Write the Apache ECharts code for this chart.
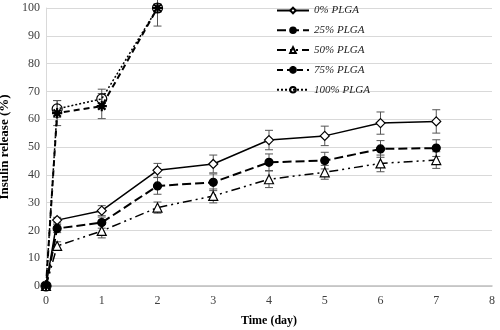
<!DOCTYPE html>
<html><head><meta charset="utf-8">
<script src="https://cdn.jsdelivr.net/npm/echarts@6/dist/echarts.min.js"></script>
<style>html,body{margin:0;padding:0;background:#fff}#c{width:500px;height:330px}</style>
</head><body><div id="c"></div>
<script>
var seriesNames = ['0% PLGA','25% PLGA','50% PLGA','75% PLGA','100% PLGA'];
var daysLong = [0, 0.2, 1, 2, 3, 4, 5, 6, 7];
var daysShort = [0, 0.2, 1, 2];
var plga0 = [0, 23.7, 27.1, 41.6, 43.9, 52.5, 54.0, 58.6, 59.2];
var plga0Err = [0, 1, 1.8, 2.5, 3.2, 3.5, 3.5, 4, 4.2];
var plga25 = [0, 20.7, 22.8, 36.0, 37.3, 44.5, 45.1, 49.3, 49.6];
var plga25Err = [0, 1.5, 2, 3, 3, 3, 3, 3, 3];
var plga50 = [0, 14.4, 19.8, 28.2, 32.4, 38.4, 40.9, 44.1, 45.3];
var plga50Err = [0, 1.5, 2.5, 2, 2.5, 3, 2.5, 3, 3];
var plga75 = [0, 62.2, 64.7, 100];
var plga75Err = [0, 4.5, 4.5, 6.5];
var plga100 = [0, 63.7, 67.3, 100];
var plga100Err = [0, 3, 3.5, 1.5];
var xTicks = [0,1,2,3,4,5,6,7,8];
var yTicks = [0,10,20,30,40,50,60,70,80,90,100];

function pts(xs, ys){ return xs.map(function(x,i){ return [x, ys[i]]; }); }
function errPts(xs, ys, es){ return xs.map(function(x,i){ return [x, ys[i]-es[i], ys[i]+es[i]]; }); }

var asterisk = 'path://M-0.5,-5 L0.5,-5 L0.5,5 L-0.5,5 Z M-5,-0.5 L5,-0.5 L5,0.5 L-5,0.5 Z M-3.9,-3.2 L-3.2,-3.9 L3.9,3.2 L3.2,3.9 Z M3.2,-3.9 L3.9,-3.2 L-3.2,3.9 L-3.9,3.2 Z';

function errSeries(data){
  return {
    type:'custom', silent:true, z:1,
    encode:{x:0, y:[1,2]},
    data:data,
    renderItem:function(params, api){
      var x=api.value(0), lo=api.value(1), hi=api.value(2);
      if (hi - lo < 0.01) return null;
      var p1=api.coord([x,hi]), p2=api.coord([x,lo]); var w=4;
      var st={stroke:'#555', lineWidth:1};
      return {type:'group', children:[
        {type:'line', shape:{x1:p1[0],y1:p1[1],x2:p2[0],y2:p2[1]}, style:st},
        {type:'line', shape:{x1:p1[0]-w,y1:p1[1],x2:p1[0]+w,y2:p1[1]}, style:st},
        {type:'line', shape:{x1:p2[0]-w,y1:p2[1],x2:p2[0]+w,y2:p2[1]}, style:st}
      ]};
    }
  };
}

function lineSeries(name, data, symbol, size, fill, type, width){
  return {
    name:name, type:'line', data:data, symbol:symbol, symbolSize:size, z:3,
    showAllSymbol:true,
    lineStyle:{color:'#000', width:width, type:type},
    itemStyle:{color:fill, borderColor:'#000', borderWidth:1.2},
    emphasis:{disabled:true}
  };
}

var chart = echarts.init(document.getElementById('c'), null, {renderer:'canvas'});
var serif = '"Liberation Serif", "DejaVu Serif", serif';
chart.setOption({
  animation:false,
  backgroundColor:'#fff',
  grid:{left:46, right:8, top:8, bottom:44, containLabel:false, outerBoundsMode:'none'},
  xAxis:{type:'value', min:0, max:8, interval:1,
    name:'Time (day)', nameLocation:'middle', nameGap:29,
    nameTextStyle:{fontFamily:serif, fontWeight:'bold', fontSize:12, color:'#000'},
    axisLine:{show:true, lineStyle:{color:'#bfbfbf', width:1.5}},
    axisTick:{show:false}, splitLine:{show:false},
    axisLabel:{fontFamily:serif, fontSize:12, color:'#404040', margin:9}
  },
  yAxis:{type:'value', min:0, max:100, interval:10,
    name:'Insulin release (%)', nameLocation:'middle', nameGap:32,
    nameTextStyle:{fontFamily:serif, fontWeight:'bold', fontSize:13, color:'#000'},
    axisLine:{show:true, lineStyle:{color:'#d9d9d9'}},
    axisTick:{show:false},
    splitLine:{show:true, lineStyle:{color:'#d9d9d9', width:1}},
    axisLabel:{fontFamily:serif, fontSize:12, color:'#404040', margin:6}
  },
  legend:{
    orient:'vertical', left:271, top:0, itemWidth:32, itemHeight:7, itemGap:8.8,
    data:seriesNames,
    textStyle:{fontFamily:serif, fontStyle:'italic', fontSize:11, color:'#222'}
  },
  series:[
    errSeries(errPts(daysLong, plga0, plga0Err)),
    errSeries(errPts(daysLong, plga25, plga25Err)),
    errSeries(errPts(daysLong, plga50, plga50Err)),
    errSeries(errPts(daysShort, plga75, plga75Err)),
    errSeries(errPts(daysShort, plga100, plga100Err)),
    lineSeries(seriesNames[0], pts(daysLong, plga0), 'diamond', 9, '#fff', 'solid', 1.5),
    lineSeries(seriesNames[1], pts(daysLong, plga25), 'circle', 8, '#000', [9,4], 2),
    lineSeries(seriesNames[2], pts(daysLong, plga50), 'triangle', 9, '#fff', [9,4,2,4,2,4], 1.5),
    lineSeries(seriesNames[3], pts(daysShort, plga75), asterisk, 9, '#000', [6,4], 2),
    lineSeries(seriesNames[4], pts(daysShort, plga100), 'circle', 10, 'rgba(255,255,255,0)', [2,2], 1.5)
  ]
});
</script></body></html>
